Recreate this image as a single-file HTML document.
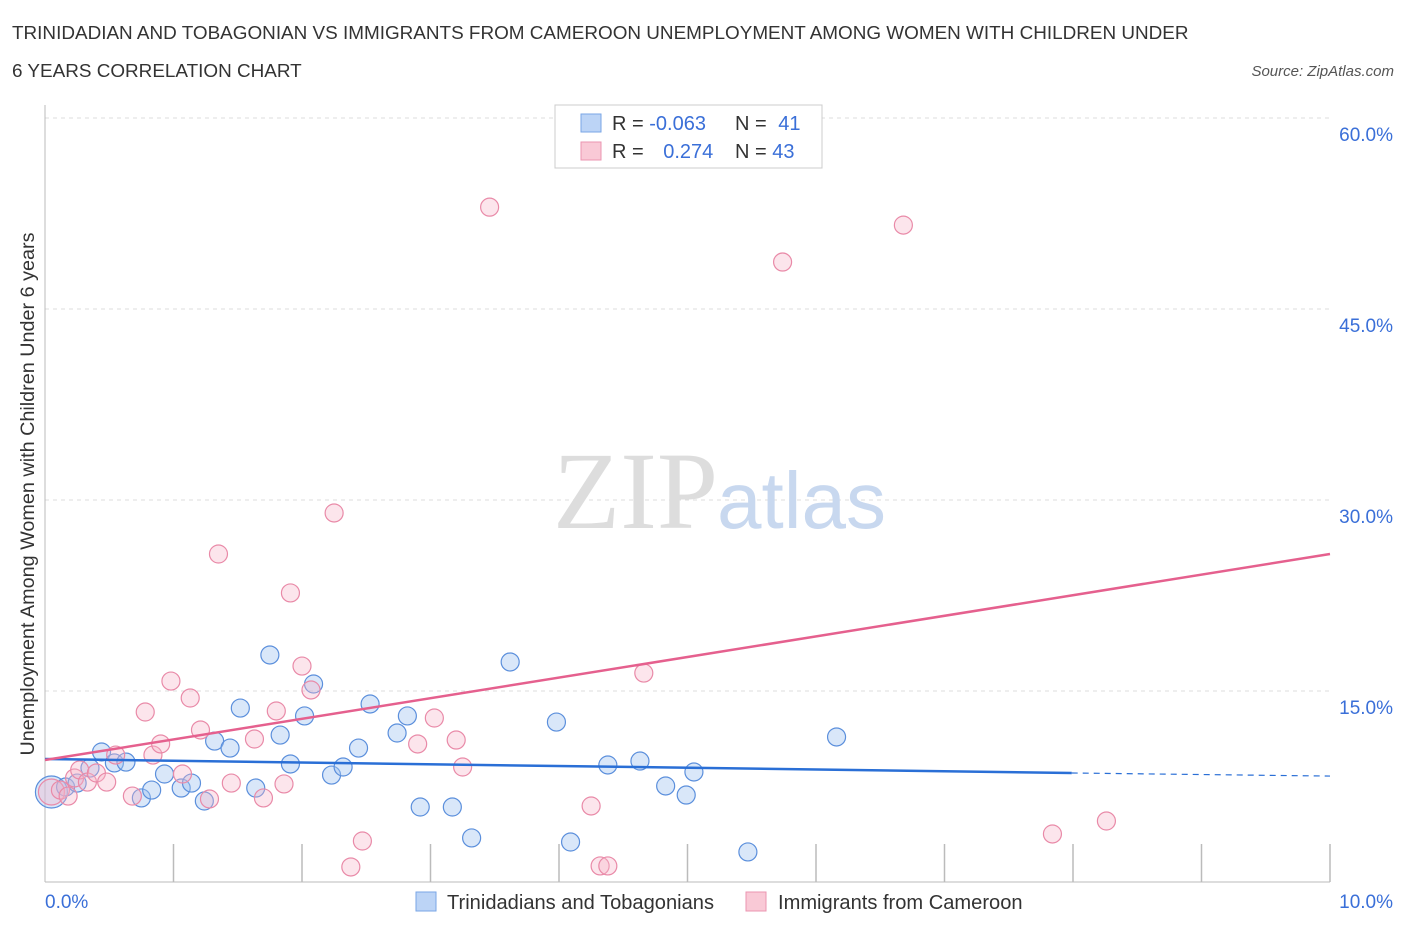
<!DOCTYPE html>
<html><head><meta charset="utf-8"><style>
body{margin:0;background:#fff;font-family:"Liberation Sans",sans-serif;}
</style></head><body>
<svg id="chart" width="1406" height="930" xmlns="http://www.w3.org/2000/svg">
<text x="12" y="39" font-size="18.9" fill="#333">TRINIDADIAN AND TOBAGONIAN VS IMMIGRANTS FROM CAMEROON UNEMPLOYMENT AMONG WOMEN WITH CHILDREN UNDER</text>
<text x="12" y="77" font-size="18.9" fill="#333">6 YEARS CORRELATION CHART</text>
<text x="1394" y="76" font-size="15" fill="#555" font-style="italic" text-anchor="end">Source: ZipAtlas.com</text>
<text transform="translate(34,494) rotate(-90)" font-size="19.8" fill="#333" text-anchor="middle">Unemployment Among Women with Children Under 6 years</text>
<g id="grid"></g>
<text x="553" y="528" font-size="110" fill="#ddd" font-family="Liberation Serif">ZIP</text>
<text x="717" y="528" font-size="80" fill="#c8d8ef">atlas</text>
<g id="marks"></g>
<g>
<rect x="555" y="105" width="267" height="63" fill="#fff" stroke="#ccc"/>
<rect x="581" y="114" width="20" height="18" fill="#bcd4f6" stroke="#7aa6e6"/>
<rect x="581" y="142" width="20" height="18" fill="#f9c9d6" stroke="#eb95b0"/>
<text x="612" y="130" font-size="20" fill="#333">R = <tspan fill="#3a6fd8">-0.063</tspan></text>
<text x="735" y="130" font-size="20" fill="#333">N = <tspan fill="#3a6fd8" dx="6">41</tspan></text>
<text x="612" y="158" font-size="20" fill="#333">R = <tspan fill="#3a6fd8" dx="14">0.274</tspan></text>
<text x="735" y="158" font-size="20" fill="#333">N = <tspan fill="#3a6fd8">43</tspan></text>
</g>
<g>
<rect x="416" y="892" width="20" height="19" fill="#bcd4f6" stroke="#7aa6e6"/>
<text x="447" y="909" font-size="20.1" fill="#333">Trinidadians and Tobagonians</text>
<rect x="746" y="892" width="20" height="19" fill="#f9c9d6" stroke="#eb95b0"/>
<text x="778" y="909" font-size="20.1" fill="#333">Immigrants from Cameroon</text>
</g>
</svg>
<script>
const blueX=[0.05,0.16,0.25,0.35,0.44,0.54,0.63,0.75,0.83,0.93,1.06,1.14,1.24,1.32,1.44,1.52,1.64,1.75,1.83,1.91,2.02,2.09,2.23,2.32,2.44,2.53,2.74,2.82,2.92,3.17,3.32,3.62,3.98,4.09,4.38,4.63,4.83,4.99,5.05,5.47,6.16];
const blueY=[7.07,7.46,7.77,8.95,10.21,9.35,9.42,6.6,7.22,8.48,7.38,7.77,6.36,11.07,10.52,13.66,7.38,17.83,11.54,9.27,13.04,15.55,8.4,9.03,10.52,13.98,11.7,13.04,5.89,5.89,3.46,17.28,12.56,3.14,9.19,9.5,7.54,6.83,8.64,2.36,11.39];
const pinkX=[0.05,0.12,0.18,0.23,0.27,0.33,0.40,0.48,0.55,0.68,0.78,0.84,0.90,0.98,1.07,1.13,1.21,1.28,1.35,1.45,1.63,1.70,1.80,1.86,1.91,2.0,2.07,2.25,2.38,2.47,2.90,3.03,3.20,3.25,3.46,4.25,4.32,4.38,4.66,5.74,6.68,7.84,8.26];
const pinkY=[7.07,7.22,6.75,8.17,8.8,7.85,8.56,7.85,9.97,6.75,13.35,9.97,10.84,15.78,8.48,14.45,11.94,6.52,25.76,7.77,11.23,6.6,13.43,7.7,22.7,16.96,15.08,28.98,1.18,3.22,10.84,12.88,11.15,9.03,53.0,5.97,1.26,1.26,16.41,48.69,51.59,3.77,4.79];
const blueTrend=[9.66,8.56,8.32];
const blueTrendX=[0,7.99,10];
const pinkTrend=[9.58,25.76];
const yTicks=[15,30,45,60];
const xTickLabels=["0.0%","10.0%"];
const NS="http://www.w3.org/2000/svg";
const sx=v=>45+v*128.5, sy=v=>882-v*12.733;
const grid=document.getElementById('grid'), marks=document.getElementById('marks');
function mk(tag,attrs,parent){const e=document.createElementNS(NS,tag);for(const k in attrs)e.setAttribute(k,attrs[k]);parent.appendChild(e);return e;}
yTicks.forEach(t=>{
 const l=mk('line',{x1:45,x2:1330,y1:sy(t),y2:sy(t),stroke:'#ddd','stroke-dasharray':'4,4'},grid);
 
 
 const tx=mk('text',{x:1393,y:sy(t)+23,'font-size':19,fill:'#3a6fd8','text-anchor':'end'},grid);
 tx.textContent=t.toFixed(1)+'%';
 
 
});
const ax=mk('line',{x1:45,x2:45,y1:105,y2:882,stroke:'#bbb'},grid);


const bx=mk('line',{x1:45,x2:1330,y1:882,y2:882,stroke:'#bbb'},grid);


for(let i=1;i<=10;i++){const t=mk('line',{x1:45+i*128.5,x2:45+i*128.5,y1:844,y2:882,stroke:'#bbb','stroke-width':1.5},grid);
 
 }
[[xTickLabels[0],45,'start'],[xTickLabels[1],1393,'end']].forEach(([s,x,a])=>{const t=mk('text',{x:x,y:908,'font-size':19,fill:'#3a6fd8','text-anchor':a},grid);t.textContent=s;
 
 });
blueX.forEach((x,i)=>{const c=mk('circle',{cx:sx(x),cy:sy(blueY[i]),r:i==0?16:9,fill:'rgba(160,195,240,0.4)',stroke:'#5b8fdc','stroke-width':1.2},marks);
 
 });
pinkX.forEach((x,i)=>{const c=mk('circle',{cx:sx(x),cy:sy(pinkY[i]),r:i==0?13:9,fill:'rgba(245,180,200,0.35)',stroke:'#e98aa8','stroke-width':1.2},marks);
 
 });
const b1=mk('line',{x1:sx(blueTrendX[0]),y1:sy(blueTrend[0]),x2:sx(blueTrendX[1]),y2:sy(blueTrend[1]),stroke:'#2a6fd6','stroke-width':2.5},marks);


const b2=mk('line',{x1:sx(blueTrendX[1]),y1:sy(blueTrend[1]),x2:sx(blueTrendX[2]),y2:sy(blueTrend[2]),stroke:'#2a6fd6','stroke-width':1.2,'stroke-dasharray':'6,5'},marks);


const p1=mk('line',{x1:sx(0),y1:sy(pinkTrend[0]),x2:sx(10),y2:sy(pinkTrend[1]),stroke:'#e5608e','stroke-width':2.5},marks);


</script>
</body></html>
